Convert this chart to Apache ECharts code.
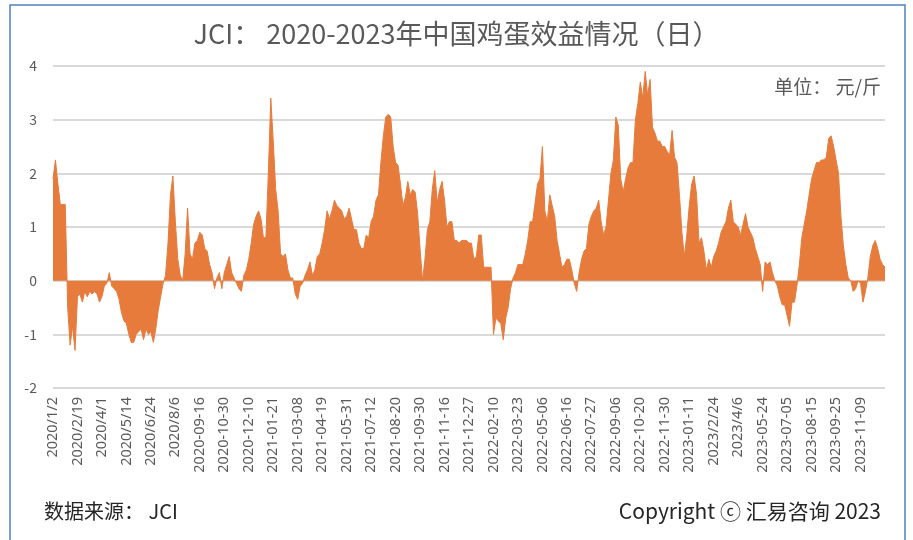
<!DOCTYPE html>
<html>
<head>
<meta charset="utf-8">
<script src="https://cdn.jsdelivr.net/npm/echarts@6/dist/echarts.min.js"></script>
<style>
  html, body { margin: 0; padding: 0; background: #fff; }
  #chart { width: 913px; height: 540px; }
</style>
</head>
<body>
<div id="chart"></div>
<script>
  // one value every 3 working days
  const step = 3
  const tickLabels = [
    '2020/1/2', '2020/2/19', '2020/4/1', '2020/5/14', '2020/6/24', '2020/8/6',
    '2020-09-16', '2020-10-30', '2020-12-10', '2021-01-21', '2021-03-08', '2021-04-19',
    '2021-05-31', '2021-07-12', '2021-08-20', '2021-09-30', '2021-11-16', '2021-12-27',
    '2022-02-10', '2022-03-23', '2022-05-06', '2022-06-16', '2022-07-27', '2022-09-06',
    '2022-10-20', '2022-11-30', '2023-01-11', '2023/2/24', '2023/4/6', '2023-05-24',
    '2023-07-05', '2023-08-15', '2023-09-25', '2023-11-09'
  ]
  const profit2020 = [
    1.9, 2.25, 1.8, 1.42, 1.42, 1.42, -0.5, -1.2, -0.85, -1.3,
    -0.3, -0.25, -0.4, -0.2, -0.3, -0.2, -0.25, -0.2, -0.25, -0.4,
    -0.3, -0.1, -0.05, 0.15, -0.1, -0.15, -0.2, -0.35, -0.6, -0.75,
    -0.8, -1.0, -1.15, -1.15, -1.0, -0.95, -0.9, -1.1, -0.9, -1.0,
    -0.95, -1.15, -0.9, -0.55, -0.3, -0.05, 0.1, 0.7, 1.6, 1.95,
    1.1, 0.4, 0.1, 0.0, 0.5,
    1.35, 0.5, 0.4, 0.7, 0.75, 0.9, 0.85, 0.6, 0.55, 0.3,
    0.15, -0.15, 0.05, 0.15, -0.15, 0.15, 0.3, 0.45, 0.15, 0.05,
    -0.05, -0.15, -0.2, 0.1, 0.2, 0.4, 0.7, 1.05, 1.2, 1.3,
    1.15, 0.8, 0.8
  ]
  const profit2021 = [
    2.0, 3.4, 2.6, 1.7, 1.3, 0.5, 0.45, 0.5, 0.2, 0.05,
    0.05, -0.25, -0.35, -0.1, -0.05, 0.1, 0.2, 0.35, 0.1, 0.2,
    0.45, 0.5, 0.7, 0.95,
    1.3, 1.15, 1.3, 1.5, 1.4, 1.35, 1.3, 1.15, 1.2, 1.35,
    1.15, 0.95, 0.95, 0.7, 0.6, 0.6, 0.85, 0.8, 1.1, 1.2,
    1.5, 1.6, 2.2, 2.7, 3.05, 3.1, 3.05, 2.5, 2.2, 2.15,
    1.8, 1.4, 1.55, 1.85, 1.6, 1.7, 1.65, 1.25, 0.6, 0.0,
    0.4, 0.95, 1.1, 1.7, 2.05, 1.45, 1.7, 1.85, 1.5, 1.0,
    1.1, 1.1, 0.75, 0.75, 0.7, 0.75, 0.75
  ]
  const profit2022 = [
    0.75, 0.7, 0.7, 0.4, 0.45, 0.85, 0.85, 0.25, 0.25, 0.25,
    0.25, -1.0, -0.7, -0.75, -0.8, -1.1, -0.7, -0.5, -0.15, 0.05,
    0.15, 0.3, 0.3, 0.3, 0.5, 0.75, 1.1, 1.1, 1.45, 1.8,
    1.9, 2.5, 1.3, 1.1, 1.6, 1.4, 1.2, 0.75, 0.5, 0.25,
    0.3, 0.4, 0.4, 0.2, -0.05, -0.2, 0.15, 0.4, 0.55, 0.6,
    1.05, 1.2, 1.3, 1.35, 1.5, 1.1, 0.85,
    1.0, 1.5, 2.0, 2.25, 3.05, 2.9, 1.9, 1.65, 1.9, 2.1,
    2.2, 2.2, 3.0, 3.3, 3.7, 3.4, 3.9, 3.45, 3.75, 2.85,
    2.75, 2.6, 2.6, 2.5, 2.5, 2.4, 2.35, 2.8, 2.3, 2.2,
    1.6, 0.9, 0.45
  ]
  const profit2023 = [
    0.85, 1.4, 1.8, 1.95, 1.6, 0.7, 0.8, 0.55, 0.2, 0.4,
    0.25, 0.45, 0.55, 0.7, 0.9, 1.0, 1.1, 1.35, 1.5, 1.1,
    1.05, 1.0, 0.85, 1.05,
    1.25, 1.0, 0.9, 0.8, 0.6, 0.45, 0.3, -0.2, 0.35, 0.3,
    0.35, 0.15, 0.0, -0.1, -0.3, -0.45, -0.45, -0.65, -0.85, -0.4,
    -0.4, -0.1, 0.3, 0.8, 1.05, 1.3, 1.6, 1.9, 2.05, 2.2,
    2.2, 2.25, 2.25, 2.3, 2.65, 2.7, 2.5, 2.25, 2.0, 1.2,
    0.65, 0.3, 0.05, 0.0, -0.2, -0.15, 0.0, -0.05, -0.4, -0.2,
    0.05, 0.45, 0.65, 0.75, 0.6, 0.4, 0.3, 0.25
  ]

  const profit = profit2020.concat(profit2021, profit2022, profit2023)
  const seriesData = profit.map((v, k) => [k * step, v])
  const lastX = (profit.length - 1) * step

  const textColor = '#595959'
  const orange = '#e67b3c'
  const cjk = '"Noto Sans CJK SC", "Noto Sans", sans-serif'

  const chart = echarts.init(document.getElementById('chart'))
  chart.setOption({
    animation: false,
    textStyle: { fontFamily: cjk },
    title: {
      text: 'JCI： 2020-2023年中国鸡蛋效益情况（日）',
      left: 'center',
      top: 15,
      textStyle: { fontSize: 27, fontWeight: 'normal', color: textColor }
    },
    grid: { left: 53, right: 28, top: 66, bottom: 152 },
    xAxis: {
      type: 'value',
      min: 0,
      max: lastX,
      interval: 30,
      splitLine: { show: false },
      axisLine: { show: false },
      axisTick: { show: false },
      axisLabel: {
        rotate: 90,
        fontSize: 14.5,
        fontFamily: '"Noto Sans", sans-serif',
        color: textColor,
        margin: 9,
        showMaxLabel: false,
        formatter: (v) => tickLabels[Math.round(v / 30)] || ''
      }
    },
    yAxis: {
      type: 'value',
      min: -2,
      max: 4,
      interval: 1,
      axisLine: { show: false },
      axisTick: { show: false },
      axisLabel: { fontSize: 14, color: textColor, margin: 16 },
      splitLine: { lineStyle: { color: '#d9d9d9', width: 2 } }
    },
    series: [{
      type: 'line',
      data: seriesData,
      symbol: 'none',
      lineStyle: { color: orange, width: 1 },
      areaStyle: { color: orange, opacity: 1, origin: 0 },
      z: 3
    }],
    graphic: [
      {
        type: 'rect',
        shape: { x: 10, y: 5, width: 895, height: 545 },
        style: { fill: 'none', stroke: '#4f81bd', lineWidth: 1.5 },
        silent: true
      },
      {
        type: 'text',
        right: 32,
        top: 77,
        style: { text: '单位： 元/斤', fill: textColor, font: '19px ' + cjk }
      },
      {
        type: 'text',
        left: 44,
        top: 501,
        style: { text: '数据来源： JCI', fill: '#262626', font: '20px ' + cjk }
      },
      {
        type: 'text',
        right: 32,
        top: 501,
        style: { text: 'Copyright ⓒ 汇易咨询 2023', fill: '#262626', font: '21px ' + cjk }
      }
    ]
  })
</script>
</body>
</html>
